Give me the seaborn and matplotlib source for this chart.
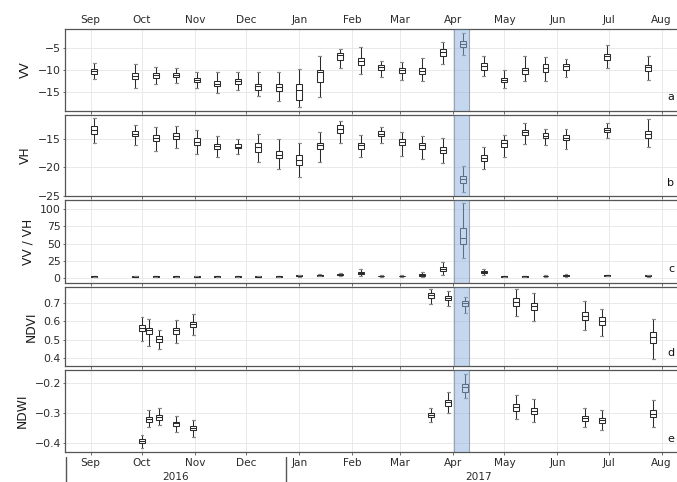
import numpy as np
import pandas as pd
import matplotlib
matplotlib.use("Agg")
import matplotlib.pyplot as plt
import matplotlib.dates as mdates
from matplotlib.lines import Line2D
import seaborn as sns

# ---------------- data ----------------
s1_dates = ["2016-09-03", "2016-09-27", "2016-10-09", "2016-10-21", "2016-11-02",
            "2016-11-14", "2016-11-26", "2016-12-08", "2016-12-20", "2017-01-01",
            "2017-01-13", "2017-01-25", "2017-02-06", "2017-02-18", "2017-03-02",
            "2017-03-14", "2017-03-26", "2017-04-07", "2017-04-19", "2017-05-01",
            "2017-05-13", "2017-05-25", "2017-06-06", "2017-06-30", "2017-07-24"]

vv_min = [-12.1, -14.0, -13.1, -13.0, -14.0, -15.2, -14.6, -15.9, -16.9, -18.4, -16.0, -9.6, -10.8,
          -11.6, -12.2, -12.4, -8.7, -6.7, -11.3, -14.0, -12.5, -12.5, -11.6, -9.6, -12.3]
vv_q1 = [-10.8, -12.1, -11.7, -11.6, -12.7, -13.7, -13.1, -14.6, -14.8, -16.7, -12.6, -7.7, -8.8,
         -10.0, -10.7, -11.0, -6.9, -4.9, -10.0, -12.8, -11.0, -10.4, -9.9, -7.8, -10.3]
vv_med = [-10.2, -11.4, -11.2, -11.1, -12.2, -13.1, -12.5, -13.7, -13.9, -14.6, -10.4, -6.7, -8.0,
          -9.4, -10.1, -10.2, -6.0, -4.1, -9.1, -12.3, -10.1, -9.6, -9.2, -6.9, -9.4]
vv_q3 = [-9.8, -10.6, -10.7, -10.7, -11.8, -12.5, -12.0, -13.1, -13.1, -13.1, -9.9, -6.1, -7.2,
         -8.9, -9.6, -9.6, -5.4, -3.6, -8.4, -11.9, -9.6, -8.7, -8.7, -6.3, -8.8]
vv_max = [-8.4, -8.7, -9.3, -9.5, -10.5, -10.5, -10.5, -10.4, -10.4, -9.7, -6.9, -5.3, -4.9,
          -7.9, -8.1, -7.2, -3.7, -1.8, -6.9, -10.1, -6.9, -7.0, -7.5, -4.4, -6.9]

vh_min = [-15.7, -16.1, -17.0, -16.6, -17.6, -18.2, -17.6, -19.1, -20.2, -21.6, -19.1, -15.6, -18.1,
          -15.6, -18.0, -18.5, -19.2, -24.4, -20.2, -18.2, -15.8, -16.1, -16.7, -14.7, -16.4]
vh_q1 = [-14.1, -14.5, -15.3, -15.0, -16.1, -16.7, -16.6, -17.3, -18.4, -19.6, -16.8, -13.9, -16.7,
         -14.4, -16.1, -16.8, -17.5, -22.8, -18.8, -16.4, -14.3, -14.8, -15.2, -13.8, -14.8]
vh_med = [-13.3, -14.1, -14.8, -14.4, -15.4, -16.2, -16.3, -16.4, -17.7, -18.6, -16.1, -13.1, -16.1,
          -14.0, -15.5, -16.1, -16.9, -22.1, -18.3, -15.7, -13.8, -14.4, -14.7, -13.4, -14.1]
vh_q3 = [-12.6, -13.5, -14.2, -13.9, -14.8, -15.8, -15.9, -15.7, -17.0, -17.7, -15.6, -12.5, -15.6,
         -13.6, -14.9, -15.6, -16.4, -21.5, -17.8, -15.2, -13.3, -13.9, -14.2, -13.0, -13.5]
vh_max = [-11.3, -12.4, -12.8, -12.6, -13.4, -14.5, -15.0, -14.1, -15.0, -15.7, -13.8, -11.8, -14.2,
          -12.8, -13.8, -14.5, -14.7, -19.8, -16.4, -14.3, -12.1, -13.1, -13.1, -12.2, -11.4]

ratio_min = [1.2, 1.0, 1.2, 1.2, 1.0, 1.2, 1.2, 1.0, 1.2, 1.8, 2.2, 2.8, 3.0,
             1.8, 1.8, 2.0, 5.0, 28.6, 4.4, 1.5, 1.5, 1.8, 2.0, 2.6, 2.0]
ratio_q1 = [1.8, 1.6, 1.8, 1.8, 1.6, 1.8, 1.8, 1.6, 1.8, 2.6, 3.0, 3.8, 6.0,
            2.5, 2.5, 3.5, 10.0, 49.0, 7.0, 2.0, 2.0, 2.4, 3.0, 3.3, 2.6]
ratio_med = [2.3, 2.0, 2.3, 2.3, 2.0, 2.3, 2.3, 2.0, 2.3, 3.2, 3.7, 4.6, 7.5,
             3.0, 3.0, 4.5, 12.5, 58.7, 8.5, 2.5, 2.5, 3.0, 3.8, 3.8, 3.2]
ratio_q3 = [2.8, 2.5, 2.8, 2.8, 2.5, 2.8, 2.8, 2.5, 2.8, 3.9, 4.4, 5.4, 9.0,
            3.5, 3.5, 5.5, 15.5, 73.3, 10.0, 3.0, 3.0, 3.6, 4.6, 4.3, 3.8]
ratio_max = [3.4, 3.1, 3.3, 3.3, 3.1, 3.4, 3.4, 3.1, 3.4, 4.8, 5.4, 6.6, 13.5,
             4.3, 4.3, 8.0, 22.8, 108.7, 13.0, 3.6, 3.6, 4.3, 6.2, 5.0, 4.5]

s2_dates = ["2016-10-01", "2016-10-05", "2016-10-11", "2016-10-21", "2016-10-31",
            "2017-03-19", "2017-03-29", "2017-04-08", "2017-05-08", "2017-05-18",
            "2017-06-17", "2017-06-27", "2017-07-27"]

ndvi_min = [0.494, 0.466, 0.446, 0.483, 0.523, 0.698, 0.683, 0.645, 0.630, 0.604, 0.553, 0.520, 0.392]
ndvi_q1 = [0.549, 0.531, 0.488, 0.531, 0.571, 0.729, 0.717, 0.685, 0.683, 0.661, 0.608, 0.580, 0.479]
ndvi_med = [0.566, 0.553, 0.505, 0.551, 0.584, 0.744, 0.731, 0.700, 0.706, 0.683, 0.632, 0.602, 0.516]
ndvi_q3 = [0.580, 0.566, 0.520, 0.566, 0.597, 0.755, 0.742, 0.713, 0.728, 0.704, 0.654, 0.623, 0.543]
ndvi_max = [0.626, 0.612, 0.553, 0.606, 0.639, 0.777, 0.768, 0.737, 0.779, 0.759, 0.715, 0.669, 0.612]

ndwi_min = [-0.417, -0.347, -0.340, -0.361, -0.378, -0.330, -0.300, -0.250, -0.320, -0.330, -0.347, -0.356, -0.347]
ndwi_q1 = [-0.400, -0.329, -0.324, -0.343, -0.357, -0.314, -0.276, -0.228, -0.293, -0.302, -0.326, -0.332, -0.314]
ndwi_med = [-0.393, -0.320, -0.314, -0.334, -0.349, -0.307, -0.264, -0.214, -0.280, -0.292, -0.317, -0.323, -0.301]
ndwi_q3 = [-0.387, -0.311, -0.307, -0.328, -0.342, -0.300, -0.257, -0.202, -0.269, -0.283, -0.308, -0.316, -0.289]
ndwi_max = [-0.374, -0.289, -0.283, -0.310, -0.324, -0.283, -0.229, -0.169, -0.238, -0.253, -0.283, -0.290, -0.256]

ylabels = ["VV", "VH", "VV / VH", "NDVI", "NDWI"]
panel_letters = ["a", "b", "c", "d", "e"]
year_labels = ["2016", "2017"]
highlight = ("2017-04-01 12:00", "2017-04-10 12:00")

# ---------------- helpers ----------------
def long_df(dates, lo, q1, med, q3, hi):
    rows = []
    for d, a, b, c, e, f in zip(dates, lo, q1, med, q3, hi):
        x = mdates.date2num(pd.Timestamp(d))
        for v in (a, b, c, e, f):
            rows.append((x, v))
    return pd.DataFrame(rows, columns=["date", "value"])

panels = [
    dict(df=long_df(s1_dates, vv_min, vv_q1, vv_med, vv_q3, vv_max), top=29, bot=111,
         ylim=(-19.2, -0.8), yticks=[-15, -10, -5], width=0.29),
    dict(df=long_df(s1_dates, vh_min, vh_q1, vh_med, vh_q3, vh_max), top=115, bot=196,
         ylim=(-25.05, -10.7), yticks=[-25, -20, -15], width=0.29),
    dict(df=long_df(s1_dates, ratio_min, ratio_q1, ratio_med, ratio_q3, ratio_max), top=200, bot=283,
         ylim=(-7.3, 113.5), yticks=[0, 25, 50, 75, 100], width=0.29),
    dict(df=long_df(s2_dates, ndvi_min, ndvi_q1, ndvi_med, ndvi_q3, ndvi_max), top=287, bot=366,
         ylim=(0.354, 0.79), yticks=[0.4, 0.5, 0.6, 0.7], width=0.875),
    dict(df=long_df(s2_dates, ndwi_min, ndwi_q1, ndwi_med, ndwi_q3, ndwi_max), top=370, bot=452,
         ylim=(-0.429, -0.156), yticks=[-0.4, -0.3, -0.2], width=0.875),
]

sns.set_style("white")
plt.rcParams['font.family'] = ['DejaVu Sans']

W, H = 677, 482
fig = plt.figure(figsize=(W / 100, H / 100), dpi=100)

origin = mdates.date2num(pd.Timestamp("2016-09-01"))
xlim = (origin - 15.33, origin + 344.1)
left_px, right_px = 64.5, 679.0
hl0 = mdates.date2num(pd.Timestamp(highlight[0]))
hl1 = mdates.date2num(pd.Timestamp(highlight[1]))

spine_col = "#555555"
for i, p in enumerate(panels):
    ax = fig.add_axes([left_px / W, 1 - p["bot"] / H, (right_px - left_px) / W, (p["bot"] - p["top"]) / H])
    sns.boxplot(data=p["df"], x="date", y="value", native_scale=True, orient="x", ax=ax,
                width=p["width"], color="white", saturation=1, linecolor="#2b2b2b",
                linewidth=0.75, whis=(0, 100), showfliers=False,
                capprops=dict(color="#8a8a8a", linewidth=0.9))
    ax.axvspan(hl0, hl1, facecolor=(139 / 255, 177 / 255, 225 / 255), alpha=0.5,
               edgecolor="#55606e", linewidth=0.8, zorder=6)
    ax.set_xlim(*xlim)
    ax.set_ylim(*p["ylim"])
    ax.set_yticks(p["yticks"])
    ax.xaxis.set_major_locator(mdates.MonthLocator())
    ax.xaxis.set_major_formatter(mdates.DateFormatter("%b"))
    ax.grid(True, color="#e9e9e9", linewidth=0.7, zorder=0)
    ax.set_axisbelow(True)
    for s in ax.spines.values():
        s.set_color(spine_col)
        s.set_linewidth(0.9)
    ax.set_xlabel("")
    ax.set_ylabel(ylabels[i], fontsize=8.8, color="#1a1a1a", labelpad=4)
    ax.tick_params(axis="y", length=1.5, width=0.6, pad=1.2, labelsize=7.8, labelcolor="#2b2b2b",
                   color=spine_col, left=True)
    ax.tick_params(axis="x", length=2, width=0.6, color=spine_col, bottom=True, top=False,
                   labelbottom=(i == len(panels) - 1), labeltop=(i == 0), labelsize=7.6,
                   labelcolor="#2b2b2b", pad=2.5)
    if i == 0:
        ax.tick_params(axis="x", pad=1.0)
    axw = (right_px - left_px)
    ax.text((671 - left_px) / axw, 13.5 / (p["bot"] - p["top"]), panel_letters[i],
            transform=ax.transAxes, ha="center", va="center", fontsize=8, color="#111111")

# year labels and separators
fig.text(176 / W, 1 - 477 / H, year_labels[0], ha="center", va="center", fontsize=7.6, color="#2b2b2b")
fig.text(478.3 / W, 1 - 477.5 / H, year_labels[1], ha="center", va="center", fontsize=7.6, color="#2b2b2b")
for xp in (65.7, 285.7):
    fig.add_artist(Line2D([xp / W, xp / W], [1 - 457 / H, 0], transform=fig.transFigure,
                          color="#555555", linewidth=1.0))

fig.savefig("out.png", dpi=100)
